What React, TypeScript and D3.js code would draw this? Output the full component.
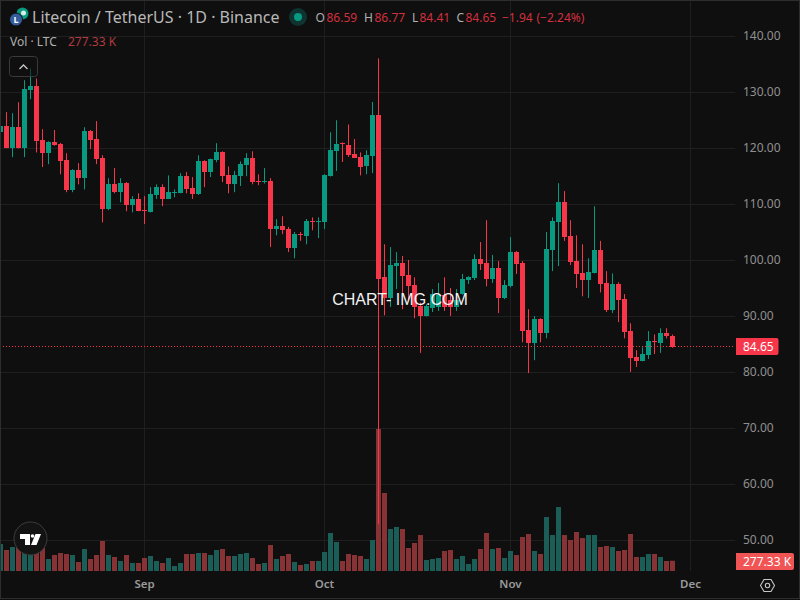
import { useEffect, useRef } from 'react'
import * as d3 from 'd3'

const startDate = Date.UTC(2024, 7, 8)
const opens = [122.9, 124.0, 120.05, 123.8, 120.05, 130.4, 131.1, 121.5, 119.16, 121.1, 120.8, 117.9, 112.55, 116.1, 114.7, 123.1, 121.65, 118.25, 109.15, 113.6, 112.2, 113.8, 109.9, 110.95, 109.0, 108.6, 111.7, 113.1, 111.0, 112.1, 112.0, 115.05, 112.9, 111.8, 117.7, 115.8, 117.9, 119.3, 115.2, 113.6, 115.05, 117.0, 118.3, 114.15, 114.0, 114.15, 105.6, 106.1, 105.6, 102.2, 104.8, 104.4, 107.05, 106.95, 106.8, 115.0, 119.55, 120.9, 120.6, 119.0, 118.5, 116.8, 118.6, 126.0, 97.0, 93.3, 99.0, 99.5, 97.4, 95.6, 91.9, 90.1, 91.5, 91.7, 93.9, 93.0, 91.7, 94.0, 96.5, 96.8, 100.2, 99.5, 96.7, 98.6, 93.3, 95.4, 101.5, 99.5, 87.6, 85.2, 89.5, 87.0, 101.8, 106.8, 110.4, 104.4, 99.9, 97.8, 96.5, 97.7, 101.8, 96.0, 91.1, 95.8, 93.1, 87.4, 82.7, 82.0, 83.1, 85.6, 85.3, 87.0, 86.59]
const highs = [124.6, 126.5, 126.3, 128.27, 132.2, 134.3, 132.5, 123.45, 121.3, 123.3, 121.0, 119.16, 116.3, 117.4, 123.8, 123.3, 124.9, 118.8, 114.7, 116.5, 114.7, 114.0, 111.5, 112.0, 111.5, 113.1, 113.6, 113.6, 115.2, 112.7, 115.6, 115.8, 114.9, 118.8, 117.9, 118.2, 120.95, 119.5, 116.8, 116.0, 117.7, 119.16, 119.5, 115.4, 116.5, 114.7, 107.4, 107.9, 106.0, 105.1, 105.1, 107.4, 107.7, 107.7, 115.4, 122.9, 125.05, 121.1, 124.3, 121.7, 119.3, 119.7, 128.3, 136.1, 102.9, 102.4, 101.5, 100.8, 100.1, 97.0, 92.5, 92.2, 94.9, 96.0, 97.0, 95.1, 94.9, 97.6, 97.2, 101.1, 103.3, 107.2, 101.0, 99.9, 96.5, 104.2, 101.7, 99.9, 91.3, 90.1, 89.7, 105.1, 107.7, 113.8, 112.4, 107.2, 104.5, 102.9, 100.4, 109.7, 103.5, 98.1, 97.7, 96.1, 94.0, 88.8, 84.0, 84.5, 87.4, 86.8, 87.9, 87.9, 86.77]
const lows = [120.5, 120.05, 118.45, 120.0, 118.45, 128.8, 119.3, 116.7, 117.2, 120.5, 115.4, 112.2, 112.2, 113.6, 112.7, 119.9, 117.2, 106.8, 109.0, 112.0, 110.4, 108.8, 108.6, 108.8, 106.5, 108.6, 111.0, 109.7, 111.0, 111.3, 112.0, 112.0, 111.0, 111.7, 113.1, 114.9, 117.55, 114.0, 112.0, 112.2, 113.3, 115.05, 113.6, 113.45, 113.75, 102.4, 104.5, 104.7, 101.5, 100.4, 103.5, 102.9, 105.4, 104.0, 105.6, 115.0, 116.0, 117.6, 118.5, 118.3, 115.2, 115.4, 115.6, 52.9, 90.2, 91.7, 94.9, 91.3, 93.0, 89.7, 83.5, 90.0, 90.8, 91.0, 91.0, 90.1, 91.0, 93.9, 95.8, 96.5, 98.3, 95.4, 96.0, 90.6, 93.1, 95.2, 97.6, 85.4, 79.9, 82.2, 85.4, 86.1, 98.1, 99.0, 103.5, 99.2, 95.1, 93.6, 93.3, 97.7, 94.3, 90.8, 90.6, 89.0, 86.1, 80.1, 81.0, 82.0, 82.4, 83.3, 83.5, 86.1, 84.41]
const closes = [124.0, 120.05, 123.8, 120.05, 130.6, 131.1, 121.3, 119.16, 121.1, 120.6, 117.7, 112.55, 116.1, 114.7, 123.1, 121.5, 118.1, 109.15, 113.6, 112.2, 113.8, 109.9, 110.95, 108.8, 108.9, 111.84, 113.1, 111.0, 112.2, 112.2, 115.05, 112.7, 111.8, 117.7, 115.8, 118.1, 119.3, 115.05, 113.6, 115.2, 117.2, 118.3, 114.0, 114.05, 114.15, 105.6, 106.1, 105.4, 102.2, 104.7, 104.6, 107.0, 106.95, 107.05, 115.2, 119.7, 120.8, 120.7, 118.8, 118.3, 116.8, 118.8, 126.0, 96.8, 93.3, 99.15, 99.5, 97.2, 95.4, 91.7, 90.1, 91.9, 94.0, 93.9, 91.7, 91.7, 93.0, 96.7, 97.0, 100.2, 99.35, 96.7, 98.6, 93.3, 95.6, 101.5, 99.35, 87.4, 85.2, 89.5, 87.0, 102.0, 107.0, 110.4, 104.2, 99.7, 97.6, 96.5, 97.9, 101.8, 95.8, 91.1, 95.8, 92.9, 87.2, 82.5, 82.0, 83.3, 85.6, 85.5, 87.0, 86.5, 84.65]
const volumes = [729, 567, 648, 675, 702, 594, 621, 648, 324, 432, 486, 459, 432, 243, 594, 324, 432, 810, 432, 378, 270, 432, 216, 216, 351, 405, 270, 216, 351, 135, 216, 459, 459, 486, 486, 432, 567, 594, 405, 405, 459, 486, 351, 189, 216, 702, 324, 405, 459, 243, 162, 189, 270, 270, 513, 1026, 783, 270, 459, 432, 405, 324, 837, 3834, 2106, 1134, 1188, 1134, 621, 756, 972, 297, 324, 351, 540, 567, 324, 405, 189, 324, 594, 1026, 594, 621, 351, 540, 432, 918, 999, 540, 459, 1458, 972, 1728, 972, 837, 1053, 891, 972, 972, 648, 675, 648, 540, 567, 999, 378, 378, 459, 459, 378, 270, 277.33]
const priceTicks = [140, 130, 120, 110, 100, 90, 80, 70, 60, 50]
const monthTicks = [
  { date: Date.UTC(2024, 8, 1), label: 'Sep' },
  { date: Date.UTC(2024, 9, 1), label: 'Oct' },
  { date: Date.UTC(2024, 10, 1), label: 'Nov' },
  { date: Date.UTC(2024, 11, 1), label: 'Dec' },
]
const ohlcLegend = [
  { x: 315.5, text: 'O', up: false },
  { x: 326.5, text: '86.59', up: true },
  { x: 364, text: 'H', up: false },
  { x: 374.5, text: '86.77', up: true },
  { x: 412, text: 'L', up: false },
  { x: 419.5, text: '84.41', up: true },
  { x: 456.5, text: 'C', up: false },
  { x: 465.5, text: '84.65', up: true },
  { x: 502, text: '\u22121.94', up: true },
  { x: 536.5, text: '(\u22122.24%)', up: true },
]
const lastPrice = 84.65
const lastVolume = '277.33 K'

const RED = '#f7364a'
const GREEN = '#089981'
const VOL_RED = '#873336'
const VOL_GREEN = '#1b5e58'
const BG = '#0f0f0f'
const GRID = '#1f1f1f'
const FONT = '"Noto Sans", sans-serif'
const DAY = 86400000

export default function App() {
  const svgRef = useRef<SVGSVGElement>(null)

  useEffect(() => {
    if (!svgRef.current) return
    const svg = d3.select(svgRef.current)
    svg.selectAll('*').remove()

    const dates = opens.map((_, i) => startDate + i * DAY)
    const xScale = d3.scaleUtc()
      .domain([dates[0], dates[dates.length - 1]])
      .range([0.5, 672.5])
    const yScale = d3.scaleLinear().domain([140, 50]).range([36.5, 540.5])
    const volScale = d3.scaleLinear().domain([0, 3834]).range([571, 429])

    svg.append('rect').attr('width', 800).attr('height', 600).attr('fill', BG)

    // grid
    svg.append('g')
      .selectAll('line')
      .data(priceTicks)
      .join('line')
      .attr('x1', 0)
      .attr('x2', 735)
      .attr('y1', d => yScale(d))
      .attr('y2', d => yScale(d))
      .attr('stroke', GRID)
    svg.append('g')
      .selectAll('line')
      .data(monthTicks)
      .join('line')
      .attr('x1', d => xScale(d.date))
      .attr('x2', d => xScale(d.date))
      .attr('y1', 0)
      .attr('y2', 571)
      .attr('stroke', GRID)

    // volume
    svg.append('g')
      .selectAll('rect')
      .data(volumes)
      .join('rect')
      .attr('x', (_, i) => xScale(dates[i]) - 2.5)
      .attr('width', 5)
      .attr('y', d => volScale(d))
      .attr('height', d => 571 - volScale(d))
      .attr('fill', (_, i) => (closes[i] >= opens[i] ? VOL_GREEN : VOL_RED))

    // candles
    const candles = svg.append('g')
      .selectAll('g')
      .data(opens)
      .join('g')
      .attr('fill', (_, i) => (closes[i] >= opens[i] ? GREEN : RED))
    candles.append('rect')
      .attr('x', (_, i) => xScale(dates[i]) - 0.5)
      .attr('width', 1)
      .attr('y', (_, i) => yScale(highs[i]))
      .attr('height', (_, i) => yScale(lows[i]) - yScale(highs[i]))
    candles.append('rect')
      .attr('x', (_, i) => xScale(dates[i]) - 2.5)
      .attr('width', 5)
      .attr('y', (_, i) => Math.round(yScale(Math.max(opens[i], closes[i]))))
      .attr('height', (_, i) => Math.max(1, Math.round(Math.abs(yScale(opens[i]) - yScale(closes[i])))))

    // last price line
    svg.append('line')
      .attr('x1', 0)
      .attr('x2', 735)
      .attr('y1', Math.floor(yScale(lastPrice)) + 0.5)
      .attr('y2', Math.floor(yScale(lastPrice)) + 0.5)
      .attr('stroke', RED)
      .attr('stroke-dasharray', '1 2')

    // watermark
    svg.append('text')
      .attr('x', 400)
      .attr('y', 305)
      .attr('text-anchor', 'middle')
      .attr('fill', '#f2f2f2')
      .style('font-family', '"Liberation Sans", sans-serif')
      .style('font-size', '16px')
      .text('CHART- IMG.COM')

    // price axis
    const priceAxis = svg.append('g')
      .attr('transform', 'translate(743,-1)')
      .call(d3.axisRight(yScale).tickValues(priceTicks).tickSize(0).tickPadding(0).tickFormat(d => d3.format('.2f')(d as number)))
    priceAxis.select('.domain').remove()
    priceAxis.selectAll('.tick text')
      .attr('fill', '#8f8f8f')
      .style('font-family', FONT)
      .style('font-size', '12px')

    // month axis
    const monthAxis = svg.append('g')
      .attr('transform', 'translate(-0.5,572)')
      .call(d3.axisBottom(xScale)
        .tickValues(monthTicks.map(d => new Date(d.date)))
        .tickSize(0)
        .tickPadding(8)
        .tickFormat((_, i) => monthTicks[i].label))
    monthAxis.select('.domain').remove()
    monthAxis.selectAll('.tick text')
      .attr('fill', '#9a9a9a')
      .style('font-family', FONT)
      .style('font-size', '11.5px')
      .style('font-weight', '600')

    // last price and volume tags
    svg.append('path')
      .attr('d', 'M736,338H776.5a2,2 0 0 1 2,2V353a2,2 0 0 1 -2,2H736Z')
      .attr('fill', RED)
    svg.append('text')
      .attr('x', 743)
      .attr('y', 351)
      .attr('fill', '#ffffff')
      .style('font-family', FONT)
      .style('font-size', '12px')
      .text(lastPrice.toFixed(2))
    svg.append('path')
      .attr('d', 'M736,553H792a2,2 0 0 1 2,2V568a2,2 0 0 1 -2,2H736Z')
      .attr('fill', '#f05454')
    svg.append('text')
      .attr('x', 743)
      .attr('y', 566)
      .attr('fill', '#ffffff')
      .style('font-family', FONT)
      .style('font-size', '12px')
      .text(lastVolume)

    // title row
    svg.append('circle').attr('cx', 22.5).attr('cy', 13.5).attr('r', 6).attr('fill', GREEN)
    svg.append('circle').attr('cx', 23.5).attr('cy', 13).attr('r', 2.5).attr('fill', '#d8eee9')
    svg.append('circle').attr('cx', 16).attr('cy', 19.5).attr('r', 6.5).attr('fill', '#345d9d').attr('stroke', BG)
    svg.append('text')
      .attr('x', 16)
      .attr('y', 23)
      .attr('text-anchor', 'middle')
      .attr('fill', '#ffffff')
      .style('font-family', FONT)
      .style('font-size', '9px')
      .style('font-weight', '700')
      .text('L')
    svg.append('text')
      .attr('x', 32)
      .attr('y', 23)
      .attr('fill', '#b8b8b8')
      .style('font-family', FONT)
      .style('font-size', '16px')
      .text('Litecoin / TetherUS \u00b7 1D \u00b7 Binance')
    svg.append('circle').attr('cx', 298).attr('cy', 17).attr('r', 9).attr('fill', '#0f3330')
    svg.append('circle').attr('cx', 298).attr('cy', 17).attr('r', 4).attr('fill', GREEN)
    svg.append('g')
      .selectAll('text')
      .data(ohlcLegend)
      .join('text')
      .attr('x', d => d.x)
      .attr('y', 22)
      .attr('fill', d => (d.up ? '#d2303e' : '#b0b0b0'))
      .style('font-family', FONT)
      .style('font-size', '12px')
      .text(d => d.text)

    svg.append('text')
      .attr('x', 10)
      .attr('y', 46)
      .attr('fill', '#b0b0b0')
      .style('font-family', FONT)
      .style('font-size', '12px')
      .text('Vol \u00b7 LTC')
    svg.append('text')
      .attr('x', 68)
      .attr('y', 46)
      .attr('fill', '#b03a3f')
      .style('font-family', FONT)
      .style('font-size', '12px')
      .text(lastVolume)

    // collapse button
    svg.append('rect')
      .attr('x', 9.5)
      .attr('y', 56.5)
      .attr('width', 28)
      .attr('height', 20)
      .attr('rx', 3)
      .attr('fill', 'rgba(15,15,15,0.6)')
      .attr('stroke', '#3a3a3a')
    svg.append('path')
      .attr('d', 'M19.5,69L23.5,65L27.5,69')
      .attr('fill', 'none')
      .attr('stroke', '#c8c8c8')
      .attr('stroke-width', 1.3)

    // TV badge
    svg.append('circle')
      .attr('cx', 30.5)
      .attr('cy', 538.5)
      .attr('r', 16.5)
      .attr('fill', '#131313')
      .attr('stroke', '#3d3d3d')
      .attr('stroke-width', 1)
    svg.append('path')
      .attr('d', 'M20,534H30V545H25V539H20Z')
      .attr('fill', '#ffffff')
    svg.append('circle').attr('cx', 32.5).attr('cy', 536).attr('r', 1.8).attr('fill', '#ffffff')
    svg.append('path')
      .attr('d', 'M35.5,534H41L36.5,545H31Z')
      .attr('fill', '#ffffff')

    // settings hexagon
    svg.append('path')
      .attr('d', 'M760.5,585.5L764,579.5H771L774.5,585.5L771,591.5H764Z')
      .attr('fill', 'none')
      .attr('stroke', '#c8c8c8')
      .attr('stroke-width', 1.1)
    svg.append('circle')
      .attr('cx', 767.5)
      .attr('cy', 585.5)
      .attr('r', 2.2)
      .attr('fill', 'none')
      .attr('stroke', '#c8c8c8')
      .attr('stroke-width', 1.1)

    // outer frame
    svg.append('rect')
      .attr('x', 0.5)
      .attr('y', 0.5)
      .attr('width', 799)
      .attr('height', 598)
      .attr('fill', 'none')
      .attr('stroke', '#2e2e2e')
  }, [])

  return (
    <svg
      ref={svgRef}
      width={800}
      height={600}
      style={{ position: 'absolute', left: 0, top: 0, background: '#1a1a1a' }}
    ></svg>
  )
}
